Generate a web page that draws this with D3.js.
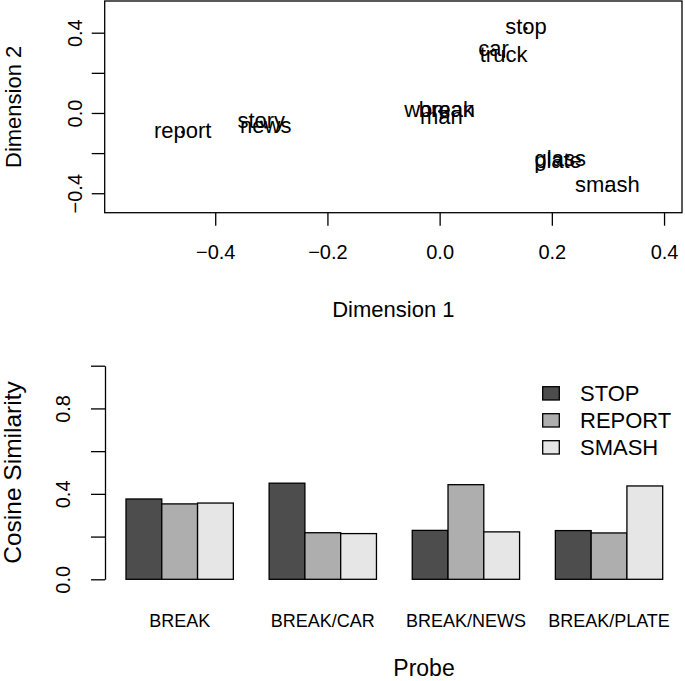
<!DOCTYPE html>
<html>
<head>
<meta charset="utf-8">
<script src="https://cdn.jsdelivr.net/npm/d3@7"></script>
<style>
  html, body { margin: 0; padding: 0; background: #fff; }
  svg { display: block; font-family: "Liberation Sans", Arial, Helvetica, sans-serif; }
</style>
</head>
<body>
<svg id="chart" width="685" height="681"></svg>
<script>
// ---- Data: MDS plot ----
const words = ["report", "story", "news", "woman", "break", "man", "car", "truck", "stop", "glass", "plate", "smash"];
const dim1  = [-0.458, -0.318, -0.310, 0.000, 0.012, 0.003, 0.096, 0.114, 0.154, 0.215, 0.211, 0.299];
const dim2  = [-0.095, -0.045, -0.070, 0.008, 0.008, -0.024, 0.314, 0.281, 0.420, -0.236, -0.246, -0.364];
const xTicksTop = [-0.4, -0.2, 0.0, 0.2, 0.4];
const yTicksTop = [-0.4, -0.2, 0.0, 0.2, 0.4];
const yLabelsTop = [-0.4, 0.0, 0.4];

// ---- Data: bar chart ----
const probes = ["BREAK", "BREAK/CAR", "BREAK/NEWS", "BREAK/PLATE"];
const seriesNames = ["STOP", "REPORT", "SMASH"];
const stopVals   = [0.376, 0.450, 0.229, 0.228];
const reportVals = [0.353, 0.218, 0.443, 0.217];
const smashVals  = [0.357, 0.214, 0.222, 0.437];
const seriesColors = ["#4D4D4D", "#AEAEAE", "#E6E6E6"];
const yTicksBar = [0, 0.2, 0.4, 0.6, 0.8, 1.0];
const yLabelsBar = [0, 0.4, 0.8];

const svg = d3.select("#chart");
const fmt = v => d3.format(".1f")(v);

// ================= TOP: MDS scatter =================
const x1 = d3.scaleLinear().domain([-0.597, 0.432]).range([104.7, 682]);
const y1 = d3.scaleLinear().domain([-0.497, 0.558]).range([212.7, 1]);

const topG = svg.append("g");
topG.append("rect")
  .attr("x", x1.range()[0]).attr("y", y1.range()[1])
  .attr("width", x1.range()[1] - x1.range()[0])
  .attr("height", y1.range()[0] - y1.range()[1])
  .attr("fill", "none").attr("stroke", "#000").attr("stroke-width", 1.3);

const xAxTop = topG.append("g").attr("transform", `translate(0,${y1.range()[0]})`)
  .call(d3.axisBottom(x1).tickValues(xTicksTop).tickSize(13).tickSizeOuter(0).tickFormat(fmt));
xAxTop.select(".domain").remove();
xAxTop.selectAll("line").attr("stroke-width", 1.3);
xAxTop.selectAll("text").attr("font-size", 20).attr("fill", "#000").attr("font-family", null)
  .attr("y", 0).attr("dy", null).attr("transform", "translate(0,46)");

const yAxTop = topG.append("g").attr("transform", `translate(${x1.range()[0]},0)`)
  .call(d3.axisLeft(y1).tickValues(yTicksTop).tickSize(13).tickSizeOuter(0)
    .tickFormat(v => yLabelsTop.some(l => Math.abs(l - v) < 1e-9) ? fmt(v) : ""));
yAxTop.select(".domain").remove();
yAxTop.selectAll("line").attr("stroke-width", 1.3);
yAxTop.selectAll("text").attr("font-size", 20).attr("fill", "#000").attr("font-family", null)
  .attr("x", 0).attr("dy", null).attr("text-anchor", "middle")
  .attr("transform", "translate(-23,0) rotate(-90)");

topG.append("text").attr("x", (x1.range()[0] + x1.range()[1]) / 2).attr("y", 317).attr("text-anchor", "middle")
  .attr("font-size", 22).text("Dimension 1");
topG.append("text").attr("transform", `translate(21,${(y1.range()[0] + y1.range()[1]) / 2}) rotate(-90)`)
  .attr("text-anchor", "middle").attr("font-size", 22).text("Dimension 2");

const pts = words.map((w, i) => ({ w, x: dim1[i], y: dim2[i] }));
topG.selectAll("circle.pt").data(pts).join("circle").attr("class", "pt")
  .attr("cx", d => x1(d.x)).attr("cy", d => y1(d.y)).attr("r", 1.6).attr("fill", "#000");
topG.selectAll("text.word").data(pts).join("text").attr("class", "word")
  .attr("x", d => x1(d.x)).attr("y", d => y1(d.y)).attr("dy", "0.26em")
  .attr("text-anchor", "middle").attr("font-size", 22).attr("fill", "#000").text(d => d.w);

// ================= BOTTOM: grouped bars =================
const x0 = d3.scaleBand().domain(probes).range([126, 662.7]).paddingInner(0.25).paddingOuter(0);
const xs = d3.scaleBand().domain(seriesNames).range([0, x0.bandwidth()]).padding(0);
const y2 = d3.scaleLinear().domain([0, 1]).range([579.3, 365.7]);
const color = d3.scaleOrdinal().domain(seriesNames).range(seriesColors);

const bot = svg.append("g");
const valsBySeries = [stopVals, reportVals, smashVals];
const groups = bot.selectAll("g.grp").data(probes).join("g").attr("class", "grp")
  .attr("transform", d => `translate(${x0(d)},0)`);
groups.selectAll("rect").data((p, gi) => seriesNames.map((s, si) => ({ s, v: valsBySeries[si][gi] })))
  .join("rect")
  .attr("x", d => xs(d.s)).attr("width", xs.bandwidth())
  .attr("y", d => y2(d.v)).attr("height", d => y2(0) - y2(d.v))
  .attr("fill", d => color(d.s)).attr("stroke", "#000").attr("stroke-width", 1.3);

const yAxBot = bot.append("g").attr("transform", "translate(105,0)")
  .call(d3.axisLeft(y2).tickValues(yTicksBar).tickSize(14).tickSizeOuter(0)
    .tickFormat(v => yLabelsBar.some(l => Math.abs(l - v) < 1e-9) ? fmt(v) : ""));
yAxBot.select(".domain").attr("stroke-width", 1.3);
yAxBot.selectAll("line").attr("stroke-width", 1.3);
yAxBot.selectAll("text").attr("font-size", 20).attr("fill", "#000").attr("font-family", null)
  .attr("x", 0).attr("dy", null).attr("text-anchor", "middle")
  .attr("transform", "translate(-35,0) rotate(-90)");

bot.selectAll("text.cat").data(probes).join("text").attr("class", "cat")
  .attr("x", d => x0(d) + x0.bandwidth() / 2).attr("y", 627)
  .attr("text-anchor", "middle").attr("font-size", 18).text(d => d);

bot.append("text").attr("x", 424).attr("y", 676).attr("text-anchor", "middle")
  .attr("font-size", 23).text("Probe");
bot.append("text").attr("transform", `translate(21,${(y2(0) + y2(1)) / 2}) rotate(-90)`)
  .attr("text-anchor", "middle").attr("font-size", 24.5).text("Cosine Similarity");

// legend
const leg = bot.append("g").attr("transform", "translate(542.7,386.7)");
const li = leg.selectAll("g").data(seriesNames).join("g")
  .attr("transform", (d, i) => `translate(0,${i * 27})`);
li.append("rect").attr("width", 16.6).attr("height", 13.3)
  .attr("fill", d => color(d)).attr("stroke", "#000").attr("stroke-width", 1.3);
li.append("text").attr("x", 37.3).attr("y", 6.7).attr("dy", "0.36em")
  .attr("font-size", 22).text(d => d);
</script>
</body>
</html>
